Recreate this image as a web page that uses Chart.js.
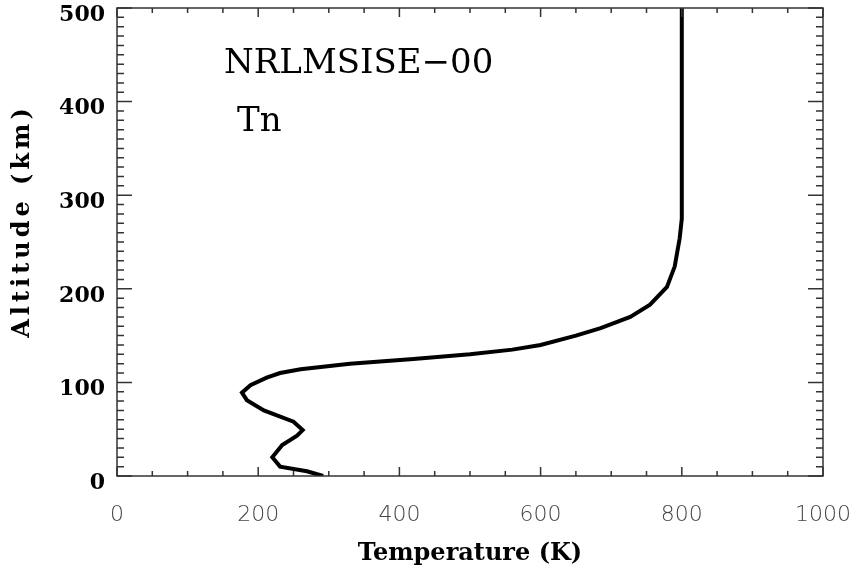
<!DOCTYPE html>
<html>
<head>
<meta charset="utf-8">
<script src="https://cdn.jsdelivr.net/npm/chart.js@4.4.1/dist/chart.umd.min.js"></script>
<style>
  html, body { margin: 0; padding: 0; background: #fff; }
  #wrap { width: 858px; height: 570px; }
</style>
</head>
<body>
<div id="wrap"><canvas id="tempChart"></canvas></div>
<script>
// NRLMSISE-00 neutral temperature profile
const altitudes = [0, 5, 10, 20, 33, 43, 49, 58, 70, 81, 89, 97, 105, 110, 114, 120, 125, 130, 135, 140, 150, 158, 170, 183, 202, 224, 254, 275, 300, 400, 500];
const temperatures = [292, 269, 231, 220, 234, 255, 263, 250, 208, 184, 177, 189, 212, 231, 260, 330, 420, 500, 560, 600, 650, 685, 727, 755, 779, 790, 797, 800, 800, 800, 800];
const xTicks = [0, 200, 400, 600, 800, 1000];
const yTicks = [0, 100, 200, 300, 400, 500];

const profile = altitudes.map((a, i) => ({ x: temperatures[i], y: a }));

// inward box ticks like the IDL plot, plus the annotations
const boxPlugin = {
    id: 'boxTicks',
    afterDatasetsDraw(chart) {
        const c = chart.ctx, a = chart.chartArea;
        const xs = chart.scales.x, ys = chart.scales.y;
        c.save();
        c.strokeStyle = '#333';
        c.lineWidth = 1.5;
        c.strokeRect(a.left, a.top, a.right - a.left, a.bottom - a.top);
        c.beginPath();
        for (let v = 0; v <= 1000; v += 50) {
            const px = xs.getPixelForValue(v);
            const len = v % 200 === 0 ? 9 : 5;
            c.moveTo(px, a.bottom); c.lineTo(px, a.bottom - len);
            c.moveTo(px, a.top); c.lineTo(px, a.top + len);
        }
        for (let v = 0; v <= 500; v += 10) {
            const py = ys.getPixelForValue(v);
            const len = v % 100 === 0 ? 15 : 7;
            c.moveTo(a.left, py); c.lineTo(a.left + len, py);
            c.moveTo(a.right, py); c.lineTo(a.right - len, py);
        }
        c.stroke();

        c.fillStyle = '#000';
        c.font = '34px "DejaVu Serif"';
        c.textBaseline = 'middle';
        c.fillText('NRLMSISE\u221200', 224, 64);
        c.fillText('Tn', 237, 122);

        c.font = 'bold 24px "DejaVu Serif"';
        c.letterSpacing = '4px';
        c.translate(23, 221);
        c.rotate(-Math.PI / 2);
        c.textAlign = 'center';
        c.fillText('Altitude (km)', 0, 0);
        c.restore();
    }
};

new Chart(document.getElementById('tempChart').getContext('2d'), {
    type: 'line',
    data: {
        datasets: [{
            data: profile,
            borderColor: '#000',
            borderWidth: 4,
            pointRadius: 0,
            tension: 0,
            fill: false
        }]
    },
    options: {
        responsive: true,
        maintainAspectRatio: false,
        animation: false,
        layout: { padding: { top: 8, right: 35, left: 0, bottom: 0 } },
        plugins: { legend: { display: false }, tooltip: { enabled: false } },
        scales: {
            x: {
                type: 'linear',
                min: 0, max: 1000,
                afterBuildTicks: s => { s.ticks = xTicks.map(v => ({ value: v })); },
                afterFit: s => { s.height = 94; s.paddingLeft = 0; s.paddingRight = 0; },
                grid: { display: false, drawTicks: false },
                border: { display: false },
                ticks: {
                    padding: 26,
                    color: '#444',
                    font: { family: 'DejaVu Sans', size: 22, weight: 200 },
                    maxRotation: 0,
                    callback: v => String(v)
                },
                title: {
                    display: true,
                    text: 'Temperature (K)',
                    color: '#000',
                    font: { family: 'DejaVu Serif', size: 24, weight: 'bold' },
                    padding: { top: 4, bottom: 2 }
                }
            },
            y: {
                type: 'linear',
                min: 0, max: 500,
                afterBuildTicks: s => { s.ticks = yTicks.map(v => ({ value: v })); },
                afterFit: s => { s.width = 117; s.paddingTop = 0; s.paddingBottom = 0; },
                grid: { display: false, drawTicks: false },
                border: { display: false },
                ticks: {
                    padding: 12,
                    labelOffset: 7,
                    color: '#000',
                    font: { family: 'DejaVu Serif', size: 22, weight: 'bold' }
                }
            }
        }
    },
    plugins: [boxPlugin]
});
</script>
</body>
</html>
